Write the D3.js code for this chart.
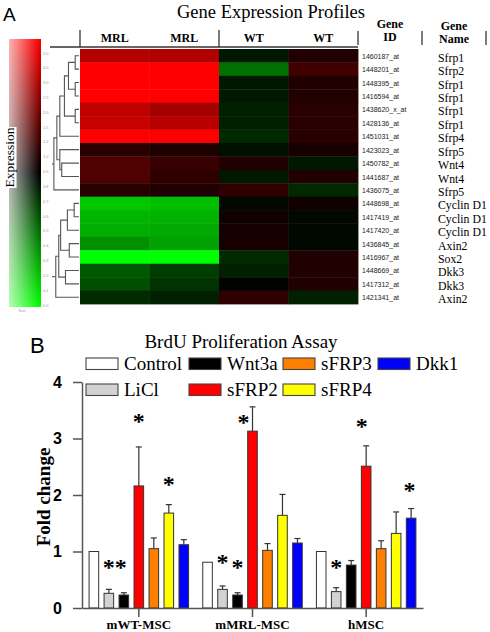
<!DOCTYPE html>
<html><head><meta charset="utf-8">
<script src="https://cdn.jsdelivr.net/npm/d3@7"></script>
<style>body{margin:0;background:#fff}svg{display:block}</style>
</head><body><svg id="c" width="490" height="632"></svg>
<script>
// ---------------- Panel A data ----------------
const geneIds = ["1460187_at","1448201_at","1448395_at","1416594_at","1438620_x_at","1428136_at","1451031_at","1423023_at","1450782_at","1441687_at","1436075_at","1448698_at","1417419_at","1417420_at","1436845_at","1416967_at","1448669_at","1417312_at","1421341_at"];
const geneNames = ["Sfrp1","Sfrp2","Sfrp1","Sfrp1","Sfrp1","Sfrp1","Sfrp4","Sfrp5","Wnt4","Wnt4","Sfrp5","Cyclin D1","Cyclin D1","Cyclin D1","Axin2","Sox2","Dkk3","Dkk3","Axin2"];
const sampleLabels = ["MRL","MRL","WT","WT"];
// signed relative expression: + = red, - = green
const mrl1 = [0.71,1,1,1,0.75,0.78,1,0.16,0.31,0.31,0.16,-0.78,-0.71,-0.68,-0.56,-1,-0.35,-0.31,-0.16];
const mrl2 = [0.69,1,1,1,0.64,0.72,1,0.12,0.22,0.19,0.125,-0.75,-0.70,-0.66,-0.63,-1,-0.24,-0.20,-0.125];
const wt1  = [-0.09,-0.44,-0.09,-0.10,-0.125,-0.125,-0.16,-0.06,0.125,-0.094,0.19,-0.03,0.063,0.094,0.094,-0.16,-0.125,-0.01,0.19];
const wt2  = [0.125,0.25,0.125,0.125,0.16,0.16,0.16,0.094,-0.094,0.125,-0.16,0.063,-0.03,-0.03,-0.03,0.125,0.125,0.125,-0.125];
const colorTicks = ["5.0","4.0","3.0","2.5","2.0","1.5","1.2","1.0","0.9","0.8","0.7","0.6","0.5","0.4","0.3","0.2","0.1","0.0"];
// dendrograms: [mergeDistance, left, right]; leaves are row indices
const redTree = [0.93, [0.82, [0.71, [0.54, [0.39, [0.14, 0, 1], [0.14, 2, 3]], [0.14, 4, 5]], 6], [0.71, 7, [0.64, 8, 9]]], 10];
const greenTree = [0.86, [0.75, [0.68, [0.43, [0.18, 11, 12], 13], [0.36, 14, 15]], [0.5, 16, 17]], 18];

// ---------------- Panel B data ----------------
const groups = ["mWT-MSC","mMRL-MSC","hMSC"];
const series = ["Control","LiCl","Wnt3a","sFRP2","sFRP3","sFRP4","Dkk1"];
const seriesColors = ["#ffffff","#d2d2d2","#000000","#ff0000","#ff8000","#ffff00","#0000ff"];
const control = [1.0, 0.81, 1.0];
const licl    = [0.26, 0.33, 0.29];
const wnt3a   = [0.23, 0.23, 0.76];
const sfrp2   = [2.16, 3.13, 2.51];
const sfrp3   = [1.05, 1.02, 1.05];
const sfrp4   = [1.68, 1.64, 1.32];
const dkk1    = [1.12, 1.15, 1.59];
const controlErr = [null, null, null];
const liclErr    = [0.33, 0.39, 0.36];
const wnt3aErr   = [0.27, 0.27, 0.84];
const sfrp2Err   = [2.85, 3.56, 2.87];
const sfrp3Err   = [1.24, 1.14, 1.19];
const sfrp4Err   = [1.83, 2.01, 1.70];
const dkk1Err    = [1.21, 1.23, 1.76];
const yTicks = [0, 1, 2, 3, 4];
// significance stars
const starGroup  = [0, 0, 0, 0, 1, 1, 1, 2, 2, 2];
const starSeries = [1, 2, 3, 5, 1, 2, 3, 1, 3, 6];
const starLevel  = [0.78, 0.78, 3.36, 2.24, 0.87, 0.78, 3.35, 0.78, 3.27, 2.14];
const starNudge  = [0, -0.2, 0, 0, 0, 0, -0.6, 0, -0.3, -0.1];

const serif = "'Liberation Serif','Times New Roman',serif";
const sans = "'Liberation Sans',Arial,sans-serif";
const svg = d3.select("#c");
svg.append("rect").attr("width", 490).attr("height", 632).attr("fill", "#fff");

// ================= Panel A =================
svg.append("text").attr("x", 3).attr("y", 21).attr("font-family", sans).attr("font-size", 19).text("A");
svg.append("text").attr("x", 271).attr("y", 18).attr("text-anchor", "middle").attr("font-family", serif).attr("font-size", 18.5).text("Gene Expression Profiles");

// colour legend bar
const defs = svg.append("defs");
const vg = defs.append("linearGradient").attr("id", "vg").attr("x1", 0).attr("y1", 0).attr("x2", 0).attr("y2", 1);
vg.append("stop").attr("offset", "0%").attr("stop-color", "#ff0000");
vg.append("stop").attr("offset", "50%").attr("stop-color", "#000000");
vg.append("stop").attr("offset", "100%").attr("stop-color", "#00ff00");
const hg = defs.append("linearGradient").attr("id", "hg").attr("x1", 0).attr("y1", 0).attr("x2", 1).attr("y2", 0);
hg.append("stop").attr("offset", "0%").attr("stop-color", "#fff").attr("stop-opacity", 0.7);
hg.append("stop").attr("offset", "95%").attr("stop-color", "#fff").attr("stop-opacity", 0);
svg.append("rect").attr("x", 9).attr("y", 39).attr("width", 32).attr("height", 268).attr("fill", "url(#vg)");
svg.append("rect").attr("x", 9).attr("y", 39).attr("width", 32).attr("height", 268).attr("fill", "url(#hg)");
const yTickC = d3.scalePoint().domain(colorTicks).range([53, 305]);
svg.selectAll("text.ct").data(colorTicks).join("text").attr("class", "ct")
  .attr("x", 43).attr("y", d => yTickC(d) + 1.5).attr("font-family", sans).attr("font-size", 4).attr("fill", "#999").text(d => d);
svg.append("text").attr("x", 18).attr("y", 312).attr("font-family", sans).attr("font-size", 4).attr("fill", "#999").text("Test");
svg.append("rect").attr("x", 1.5).attr("y", 127).attr("width", 15).attr("height", 61).attr("fill", "#fff");
svg.append("text").attr("transform", "translate(13.5,157.5) rotate(-90)").attr("text-anchor", "middle")
  .attr("font-family", serif).attr("font-size", 13.5).text("Expression");

// heatmap
const heatCols = [mrl1, mrl2, wt1, wt2];
const xH = d3.scaleBand().domain(d3.range(4)).range([80, 358]);
const yH = d3.scaleBand().domain(geneIds).range([49, 304]);
const heatColor = d3.scaleLinear().domain([-1, 0, 1]).range(["#00ff00", "#000000", "#ff0000"]);
const cells = [];
heatCols.forEach((col, ci) => col.forEach((v, ri) => cells.push({ci, ri, v})));
svg.append("g").selectAll("rect").data(cells).join("rect")
  .attr("x", d => xH(d.ci)).attr("y", d => yH(geneIds[d.ri]))
  .attr("width", xH.bandwidth() + 0.4).attr("height", yH.bandwidth() + 0.4)
  .attr("fill", d => heatColor(d.v));

// header
const hdr = svg.append("g").attr("font-family", serif).attr("font-weight", "bold").attr("font-size", 12).attr("text-anchor", "middle");
sampleLabels.forEach((s, i) => hdr.append("text").attr("x", xH(i) + xH.bandwidth() / 2).attr("y", 42).text(s));
hdr.append("text").attr("x", 390).attr("y", 28).text("Gene");
hdr.append("text").attr("x", 390).attr("y", 41).text("ID");
hdr.append("text").attr("x", 454).attr("y", 30).text("Gene");
hdr.append("text").attr("x", 454).attr("y", 43).text("Name");
const lineC = "#333";
svg.append("line").attr("x1", 50).attr("x2", 358).attr("y1", 47).attr("y2", 47).attr("stroke", lineC).attr("stroke-width", 1.3);
[[80, 30, 47], [219, 30, 47], [358, 31, 45], [422, 31, 45], [486, 31, 45]].forEach(([x, a, b]) =>
  svg.append("line").attr("x1", x).attr("x2", x).attr("y1", a).attr("y2", b).attr("stroke", lineC).attr("stroke-width", 1.3));

// row labels
svg.append("g").selectAll("text").data(geneIds).join("text")
  .attr("x", 362).attr("y", d => yH(d) + yH.bandwidth() / 2 + 3)
  .attr("font-family", sans).attr("font-size", 7).attr("fill", "#222").text(d => d);
svg.append("g").selectAll("text").data(geneNames).join("text")
  .attr("x", 438).attr("y", (d, i) => yH(geneIds[i]) + yH.bandwidth() / 2 + 6)
  .attr("font-family", serif).attr("font-size", 11.8).text(d => d);

// dendrograms
const xD = d3.scaleLinear().domain([0, 1]).range([79, 52]);
const dg = svg.append("g").attr("fill", "none").attr("stroke", "#555").attr("stroke-width", 1.1);
function drawTree(tree) {
  function walk(node) {
    if (typeof node === "number") return {x: xD(0), y: yH(geneIds[node]) + yH.bandwidth() / 2};
    const [d, a, b] = node;
    const A = walk(a), B = walk(b), x = xD(d);
    dg.append("path").attr("d", `M${A.x},${A.y}H${x}V${B.y}H${B.x}`);
    return {x, y: (A.y + B.y) / 2};
  }
  const r = walk(tree);
  dg.append("path").attr("d", `M${r.x},${r.y}H${xD(1)}`);
}
drawTree(redTree);
drawTree(greenTree);

// ================= Panel B =================
svg.append("text").attr("x", 30).attr("y", 353).attr("font-family", sans).attr("font-size", 22).text("B");
svg.append("text").attr("x", 241).attr("y", 348).attr("text-anchor", "middle").attr("font-family", serif).attr("font-size", 19).text("BrdU Proliferation Assay");

// legend
const legCols = [86, 189, 283, 378], legRows = [358, 384];
series.forEach((s, i) => {
  const x = legCols[Math.floor(i / 2)], y = legRows[i % 2];
  svg.append("rect").attr("x", x).attr("y", y).attr("width", 32).attr("height", 11.5)
    .attr("fill", seriesColors[i]).attr("stroke", "#444").attr("stroke-width", 1.1);
  svg.append("text").attr("x", x + 38).attr("y", y + 12).attr("font-family", serif).attr("font-size", 19).text(s);
});

const yB = d3.scaleLinear().domain([0, 4]).range([608, 382]);
const xG = d3.scaleBand().domain(groups).range([82, 423]);
const xS = d3.scaleBand().domain(series).range([0, 104]).paddingInner(0.36).paddingOuter(0.15);
const gx = g => xG(g) + xG.bandwidth() / 2 - 52;
const vals = [control, licl, wnt3a, sfrp2, sfrp3, sfrp4, dkk1];
const errs = [controlErr, liclErr, wnt3aErr, sfrp2Err, sfrp3Err, sfrp4Err, dkk1Err];
const bars = [];
groups.forEach((g, gi) => series.forEach((s, si) => bars.push({g, s, si, v: vals[si][gi], e: errs[si][gi]})));

// error bars
const eg = svg.append("g").attr("stroke", "#333").attr("stroke-width", 1.2);
bars.filter(d => d.e != null).forEach(d => {
  const cx = gx(d.g) + xS(d.s) + xS.bandwidth() / 2;
  eg.append("line").attr("x1", cx).attr("x2", cx).attr("y1", yB(d.v)).attr("y2", yB(d.e));
  eg.append("line").attr("x1", cx - 3).attr("x2", cx + 3).attr("y1", yB(d.e)).attr("y2", yB(d.e));
});
svg.append("g").selectAll("rect").data(bars).join("rect")
  .attr("x", d => gx(d.g) + xS(d.s)).attr("y", d => yB(d.v))
  .attr("width", xS.bandwidth()).attr("height", d => yB(0) - yB(d.v))
  .attr("fill", d => seriesColors[d.si]).attr("stroke", "#333").attr("stroke-width", 1);

// axes
const ya = svg.append("g").attr("transform", "translate(82,0)")
  .call(d3.axisLeft(yB).tickValues(yTicks).tickFormat(d3.format("d")).tickSize(9).tickPadding(11).tickSizeOuter(0));
ya.selectAll("path,line").attr("stroke", "#555").attr("stroke-width", 1.5);
ya.selectAll("text").attr("font-family", sans).attr("font-weight", "bold").attr("font-size", 16).attr("fill", "#000");
const xa = svg.append("g").attr("transform", "translate(0,608)")
  .call(d3.axisBottom(xG).tickSize(9).tickPadding(3).tickSizeOuter(0));
xa.selectAll("path,line").attr("stroke", "#555").attr("stroke-width", 1.5);
xa.selectAll("text").attr("font-family", serif).attr("font-weight", "bold").attr("font-size", 13).attr("fill", "#000");
ya.attr("font-size", null); xa.attr("font-size", null);

svg.append("text").attr("transform", "translate(50,497) rotate(-90)").attr("text-anchor", "middle")
  .attr("font-family", serif).attr("font-weight", "bold").attr("font-size", 19).text("Fold change");

// stars
starGroup.forEach((gi, k) => {
  const s = series[starSeries[k]];
  const cx = gx(groups[gi]) + xS(s) + xS.bandwidth() / 2 + starNudge[k] * xS.step();
  svg.append("text").attr("x", cx).attr("y", yB(starLevel[k]) + 11).attr("text-anchor", "middle")
    .attr("font-family", serif).attr("font-weight", "bold").attr("font-size", 24).text("*");
});
</script></body></html>
